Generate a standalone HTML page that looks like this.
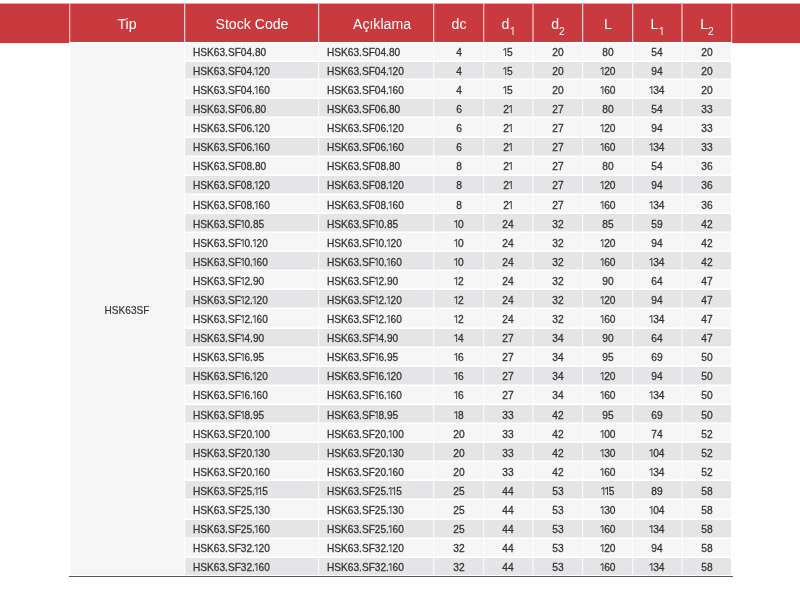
<!DOCTYPE html>
<html><head><meta charset="utf-8"><style>
html,body{margin:0;padding:0;background:#fff;width:800px;height:599px;overflow:hidden;position:relative}
body{font-family:"Liberation Sans",sans-serif}
div,span{position:absolute;box-sizing:border-box}
.h{width:120px;height:38px;line-height:38px;text-align:center;color:#fff;font-size:15.5px;transform:scaleX(0.91)}
.h sub{font-size:11.3px;vertical-align:-6px;line-height:0}
.h sub i{margin-left:0.12em}
.t{height:19px;line-height:19px;font-size:11px;color:#353535;white-space:nowrap;transform:scaleX(0.92);transform-origin:0 0}
.n{width:60px;height:19px;line-height:19px;font-size:11px;color:#353535;text-align:center;transform:scaleX(0.93)}
i{font-style:normal;position:relative;display:inline-block;width:0.36em;height:1px}
i::before{content:"";position:absolute;left:0.15em;bottom:0;width:0.125em;height:0.71em;background:currentColor}
i::after{content:"";position:absolute;left:-0.1em;top:calc(1px - 0.71em);width:0.26em;height:0.12em;background:currentColor;transform:rotate(-38deg);transform-origin:100% 0}
.t,.n{-webkit-text-stroke:0.3px #353535}
.tip{-webkit-text-stroke:0.2px #353535;width:120px;height:20px;line-height:20px;font-size:10.5px;color:#353535;text-align:center;transform:scaleX(0.96)}
</style></head><body><div style="left:0;top:0;width:800px;height:599px;will-change:transform">
<div style="left:0px;top:4px;width:69px;height:39px;background:#c83a3e;"></div>
<div style="left:69px;top:4px;width:663px;height:38px;background:#c83a3e;"></div>
<div style="left:732px;top:4px;width:68px;height:39px;background:#c83a3e;"></div>
<div style="left:0px;top:3px;width:800px;height:1px;background:rgba(200,58,62,0.45);"></div>
<div style="left:70px;top:43px;width:661px;height:532px;background:#f6f6f6;"></div>
<div style="left:185px;top:60px;width:546px;height:1px;background:rgba(255,255,255,0.5);"></div>
<div style="left:185px;top:61px;width:546px;height:1px;background:#fff;"></div>
<div style="left:185px;top:62px;width:546px;height:17px;background:#e5e5e7;"></div>
<div style="left:185px;top:78px;width:546px;height:1px;background:rgba(255,255,255,0.5);"></div>
<div style="left:185px;top:79px;width:546px;height:1px;background:#fff;"></div>
<div style="left:185px;top:97px;width:546px;height:1px;background:rgba(255,255,255,0.5);"></div>
<div style="left:185px;top:98px;width:546px;height:1px;background:#fff;"></div>
<div style="left:185px;top:99px;width:546px;height:18px;background:#e5e5e7;"></div>
<div style="left:185px;top:116px;width:546px;height:1px;background:rgba(255,255,255,0.5);"></div>
<div style="left:185px;top:117px;width:546px;height:1px;background:#fff;"></div>
<div style="left:185px;top:136px;width:546px;height:1px;background:rgba(255,255,255,0.5);"></div>
<div style="left:185px;top:137px;width:546px;height:1px;background:#fff;"></div>
<div style="left:185px;top:138px;width:546px;height:18px;background:#e5e5e7;"></div>
<div style="left:185px;top:155px;width:546px;height:1px;background:rgba(255,255,255,0.5);"></div>
<div style="left:185px;top:156px;width:546px;height:1px;background:#fff;"></div>
<div style="left:185px;top:174px;width:546px;height:1px;background:rgba(255,255,255,0.5);"></div>
<div style="left:185px;top:175px;width:546px;height:1px;background:#fff;"></div>
<div style="left:185px;top:176px;width:546px;height:18px;background:#e5e5e7;"></div>
<div style="left:185px;top:193px;width:546px;height:1px;background:rgba(255,255,255,0.5);"></div>
<div style="left:185px;top:194px;width:546px;height:1px;background:#fff;"></div>
<div style="left:185px;top:212px;width:546px;height:1px;background:rgba(255,255,255,0.5);"></div>
<div style="left:185px;top:213px;width:546px;height:1px;background:#fff;"></div>
<div style="left:185px;top:214px;width:546px;height:18px;background:#e5e5e7;"></div>
<div style="left:185px;top:231px;width:546px;height:1px;background:rgba(255,255,255,0.5);"></div>
<div style="left:185px;top:232px;width:546px;height:1px;background:#fff;"></div>
<div style="left:185px;top:250px;width:546px;height:1px;background:rgba(255,255,255,0.5);"></div>
<div style="left:185px;top:251px;width:546px;height:1px;background:#fff;"></div>
<div style="left:185px;top:252px;width:546px;height:18px;background:#e5e5e7;"></div>
<div style="left:185px;top:269px;width:546px;height:1px;background:rgba(255,255,255,0.5);"></div>
<div style="left:185px;top:270px;width:546px;height:1px;background:#fff;"></div>
<div style="left:185px;top:288px;width:546px;height:1px;background:rgba(255,255,255,0.5);"></div>
<div style="left:185px;top:289px;width:546px;height:1px;background:#fff;"></div>
<div style="left:185px;top:290px;width:546px;height:18px;background:#e5e5e7;"></div>
<div style="left:185px;top:307px;width:546px;height:1px;background:rgba(255,255,255,0.5);"></div>
<div style="left:185px;top:308px;width:546px;height:1px;background:#fff;"></div>
<div style="left:185px;top:327px;width:546px;height:1px;background:rgba(255,255,255,0.5);"></div>
<div style="left:185px;top:328px;width:546px;height:1px;background:#fff;"></div>
<div style="left:185px;top:329px;width:546px;height:18px;background:#e5e5e7;"></div>
<div style="left:185px;top:346px;width:546px;height:1px;background:rgba(255,255,255,0.5);"></div>
<div style="left:185px;top:347px;width:546px;height:1px;background:#fff;"></div>
<div style="left:185px;top:365px;width:546px;height:1px;background:rgba(255,255,255,0.5);"></div>
<div style="left:185px;top:366px;width:546px;height:1px;background:#fff;"></div>
<div style="left:185px;top:367px;width:546px;height:18px;background:#e5e5e7;"></div>
<div style="left:185px;top:384px;width:546px;height:1px;background:rgba(255,255,255,0.5);"></div>
<div style="left:185px;top:385px;width:546px;height:1px;background:#fff;"></div>
<div style="left:185px;top:403px;width:546px;height:1px;background:rgba(255,255,255,0.5);"></div>
<div style="left:185px;top:404px;width:546px;height:1px;background:#fff;"></div>
<div style="left:185px;top:405px;width:546px;height:18px;background:#e5e5e7;"></div>
<div style="left:185px;top:422px;width:546px;height:1px;background:rgba(255,255,255,0.5);"></div>
<div style="left:185px;top:423px;width:546px;height:1px;background:#fff;"></div>
<div style="left:185px;top:441px;width:546px;height:1px;background:rgba(255,255,255,0.5);"></div>
<div style="left:185px;top:442px;width:546px;height:1px;background:#fff;"></div>
<div style="left:185px;top:443px;width:546px;height:18px;background:#e5e5e7;"></div>
<div style="left:185px;top:460px;width:546px;height:1px;background:rgba(255,255,255,0.5);"></div>
<div style="left:185px;top:461px;width:546px;height:1px;background:#fff;"></div>
<div style="left:185px;top:479px;width:546px;height:1px;background:rgba(255,255,255,0.5);"></div>
<div style="left:185px;top:480px;width:546px;height:1px;background:#fff;"></div>
<div style="left:185px;top:481px;width:546px;height:18px;background:#e5e5e7;"></div>
<div style="left:185px;top:498px;width:546px;height:1px;background:rgba(255,255,255,0.5);"></div>
<div style="left:185px;top:499px;width:546px;height:1px;background:#fff;"></div>
<div style="left:185px;top:518px;width:546px;height:1px;background:rgba(255,255,255,0.5);"></div>
<div style="left:185px;top:519px;width:546px;height:1px;background:#fff;"></div>
<div style="left:185px;top:520px;width:546px;height:18px;background:#e5e5e7;"></div>
<div style="left:185px;top:537px;width:546px;height:1px;background:rgba(255,255,255,0.5);"></div>
<div style="left:185px;top:538px;width:546px;height:1px;background:#fff;"></div>
<div style="left:185px;top:556px;width:546px;height:1px;background:rgba(255,255,255,0.5);"></div>
<div style="left:185px;top:557px;width:546px;height:1px;background:#fff;"></div>
<div style="left:185px;top:558px;width:546px;height:17px;background:#e5e5e7;"></div>
<div style="left:69px;top:4px;width:1px;height:571px;background:rgba(255,255,255,0.72);"></div>
<div style="left:70px;top:4px;width:1px;height:571px;background:rgba(255,255,255,0.2);"></div>
<div style="left:184px;top:4px;width:1px;height:571px;background:rgba(255,255,255,0.72);"></div>
<div style="left:185px;top:4px;width:1px;height:571px;background:rgba(255,255,255,0.2);"></div>
<div style="left:318px;top:4px;width:1px;height:571px;background:rgba(255,255,255,0.72);"></div>
<div style="left:319px;top:4px;width:1px;height:571px;background:rgba(255,255,255,0.2);"></div>
<div style="left:433px;top:4px;width:1px;height:571px;background:rgba(255,255,255,0.72);"></div>
<div style="left:434px;top:4px;width:1px;height:571px;background:rgba(255,255,255,0.2);"></div>
<div style="left:483px;top:4px;width:1px;height:571px;background:rgba(255,255,255,0.72);"></div>
<div style="left:484px;top:4px;width:1px;height:571px;background:rgba(255,255,255,0.2);"></div>
<div style="left:532px;top:4px;width:2px;height:571px;background:rgba(255,255,255,0.47);"></div>
<div style="left:582px;top:4px;width:1px;height:571px;background:rgba(255,255,255,0.72);"></div>
<div style="left:583px;top:4px;width:1px;height:571px;background:rgba(255,255,255,0.2);"></div>
<div style="left:632px;top:4px;width:1px;height:571px;background:rgba(255,255,255,0.72);"></div>
<div style="left:633px;top:4px;width:1px;height:571px;background:rgba(255,255,255,0.2);"></div>
<div style="left:681px;top:4px;width:2px;height:571px;background:rgba(255,255,255,0.47);"></div>
<div style="left:731px;top:4px;width:1px;height:571px;background:rgba(255,255,255,0.72);"></div>
<div style="left:732px;top:4px;width:1px;height:571px;background:rgba(255,255,255,0.2);"></div>
<div style="left:69px;top:42px;width:663px;height:1px;background:#fff;"></div>
<div style="left:69px;top:576px;width:664px;height:1px;background:#5a5a5a;"></div>
<span class="h" style="left:67.0px;top:5px">Tip</span>
<span class="h" style="left:191.5px;top:5px">Stock Code</span>
<span class="h" style="left:322.0px;top:5px">A&ccedil;&#305;klama</span>
<span class="h" style="left:398.5px;top:5px">dc</span>
<span class="h" style="left:448.25px;top:5px">d<sub><i></i></sub></span>
<span class="h" style="left:497.75px;top:5px">d<sub>2</sub></span>
<span class="h" style="left:547.5px;top:5px">L</span>
<span class="h" style="left:597.25px;top:5px">L<sub><i></i></sub></span>
<span class="h" style="left:646.75px;top:5px">L<sub>2</sub></span>
<span class="t" style="left:192.5px;top:43px">HSK63.SF04.80</span>
<span class="t" style="left:326.5px;top:43px">HSK63.SF04.80</span>
<span class="n" style="left:428.5px;top:43px">4</span>
<span class="n" style="left:478.25px;top:43px"><i></i>5</span>
<span class="n" style="left:527.75px;top:43px">20</span>
<span class="n" style="left:577.5px;top:43px">80</span>
<span class="n" style="left:627.25px;top:43px">54</span>
<span class="n" style="left:676.75px;top:43px">20</span>
<span class="t" style="left:192.5px;top:62px">HSK63.SF04.<i></i>20</span>
<span class="t" style="left:326.5px;top:62px">HSK63.SF04.<i></i>20</span>
<span class="n" style="left:428.5px;top:62px">4</span>
<span class="n" style="left:478.25px;top:62px"><i></i>5</span>
<span class="n" style="left:527.75px;top:62px">20</span>
<span class="n" style="left:577.5px;top:62px"><i></i>20</span>
<span class="n" style="left:627.25px;top:62px">94</span>
<span class="n" style="left:676.75px;top:62px">20</span>
<span class="t" style="left:192.5px;top:81px">HSK63.SF04.<i></i>60</span>
<span class="t" style="left:326.5px;top:81px">HSK63.SF04.<i></i>60</span>
<span class="n" style="left:428.5px;top:81px">4</span>
<span class="n" style="left:478.25px;top:81px"><i></i>5</span>
<span class="n" style="left:527.75px;top:81px">20</span>
<span class="n" style="left:577.5px;top:81px"><i></i>60</span>
<span class="n" style="left:627.25px;top:81px"><i></i>34</span>
<span class="n" style="left:676.75px;top:81px">20</span>
<span class="t" style="left:192.5px;top:100px">HSK63.SF06.80</span>
<span class="t" style="left:326.5px;top:100px">HSK63.SF06.80</span>
<span class="n" style="left:428.5px;top:100px">6</span>
<span class="n" style="left:478.25px;top:100px">2<i></i></span>
<span class="n" style="left:527.75px;top:100px">27</span>
<span class="n" style="left:577.5px;top:100px">80</span>
<span class="n" style="left:627.25px;top:100px">54</span>
<span class="n" style="left:676.75px;top:100px">33</span>
<span class="t" style="left:192.5px;top:119px">HSK63.SF06.<i></i>20</span>
<span class="t" style="left:326.5px;top:119px">HSK63.SF06.<i></i>20</span>
<span class="n" style="left:428.5px;top:119px">6</span>
<span class="n" style="left:478.25px;top:119px">2<i></i></span>
<span class="n" style="left:527.75px;top:119px">27</span>
<span class="n" style="left:577.5px;top:119px"><i></i>20</span>
<span class="n" style="left:627.25px;top:119px">94</span>
<span class="n" style="left:676.75px;top:119px">33</span>
<span class="t" style="left:192.5px;top:138px">HSK63.SF06.<i></i>60</span>
<span class="t" style="left:326.5px;top:138px">HSK63.SF06.<i></i>60</span>
<span class="n" style="left:428.5px;top:138px">6</span>
<span class="n" style="left:478.25px;top:138px">2<i></i></span>
<span class="n" style="left:527.75px;top:138px">27</span>
<span class="n" style="left:577.5px;top:138px"><i></i>60</span>
<span class="n" style="left:627.25px;top:138px"><i></i>34</span>
<span class="n" style="left:676.75px;top:138px">33</span>
<span class="t" style="left:192.5px;top:157px">HSK63.SF08.80</span>
<span class="t" style="left:326.5px;top:157px">HSK63.SF08.80</span>
<span class="n" style="left:428.5px;top:157px">8</span>
<span class="n" style="left:478.25px;top:157px">2<i></i></span>
<span class="n" style="left:527.75px;top:157px">27</span>
<span class="n" style="left:577.5px;top:157px">80</span>
<span class="n" style="left:627.25px;top:157px">54</span>
<span class="n" style="left:676.75px;top:157px">36</span>
<span class="t" style="left:192.5px;top:176px">HSK63.SF08.<i></i>20</span>
<span class="t" style="left:326.5px;top:176px">HSK63.SF08.<i></i>20</span>
<span class="n" style="left:428.5px;top:176px">8</span>
<span class="n" style="left:478.25px;top:176px">2<i></i></span>
<span class="n" style="left:527.75px;top:176px">27</span>
<span class="n" style="left:577.5px;top:176px"><i></i>20</span>
<span class="n" style="left:627.25px;top:176px">94</span>
<span class="n" style="left:676.75px;top:176px">36</span>
<span class="t" style="left:192.5px;top:196px">HSK63.SF08.<i></i>60</span>
<span class="t" style="left:326.5px;top:196px">HSK63.SF08.<i></i>60</span>
<span class="n" style="left:428.5px;top:196px">8</span>
<span class="n" style="left:478.25px;top:196px">2<i></i></span>
<span class="n" style="left:527.75px;top:196px">27</span>
<span class="n" style="left:577.5px;top:196px"><i></i>60</span>
<span class="n" style="left:627.25px;top:196px"><i></i>34</span>
<span class="n" style="left:676.75px;top:196px">36</span>
<span class="t" style="left:192.5px;top:215px">HSK63.SF<i></i>0.85</span>
<span class="t" style="left:326.5px;top:215px">HSK63.SF<i></i>0.85</span>
<span class="n" style="left:428.5px;top:215px"><i></i>0</span>
<span class="n" style="left:478.25px;top:215px">24</span>
<span class="n" style="left:527.75px;top:215px">32</span>
<span class="n" style="left:577.5px;top:215px">85</span>
<span class="n" style="left:627.25px;top:215px">59</span>
<span class="n" style="left:676.75px;top:215px">42</span>
<span class="t" style="left:192.5px;top:234px">HSK63.SF<i></i>0.<i></i>20</span>
<span class="t" style="left:326.5px;top:234px">HSK63.SF<i></i>0.<i></i>20</span>
<span class="n" style="left:428.5px;top:234px"><i></i>0</span>
<span class="n" style="left:478.25px;top:234px">24</span>
<span class="n" style="left:527.75px;top:234px">32</span>
<span class="n" style="left:577.5px;top:234px"><i></i>20</span>
<span class="n" style="left:627.25px;top:234px">94</span>
<span class="n" style="left:676.75px;top:234px">42</span>
<span class="t" style="left:192.5px;top:253px">HSK63.SF<i></i>0.<i></i>60</span>
<span class="t" style="left:326.5px;top:253px">HSK63.SF<i></i>0.<i></i>60</span>
<span class="n" style="left:428.5px;top:253px"><i></i>0</span>
<span class="n" style="left:478.25px;top:253px">24</span>
<span class="n" style="left:527.75px;top:253px">32</span>
<span class="n" style="left:577.5px;top:253px"><i></i>60</span>
<span class="n" style="left:627.25px;top:253px"><i></i>34</span>
<span class="n" style="left:676.75px;top:253px">42</span>
<span class="t" style="left:192.5px;top:272px">HSK63.SF<i></i>2.90</span>
<span class="t" style="left:326.5px;top:272px">HSK63.SF<i></i>2.90</span>
<span class="n" style="left:428.5px;top:272px"><i></i>2</span>
<span class="n" style="left:478.25px;top:272px">24</span>
<span class="n" style="left:527.75px;top:272px">32</span>
<span class="n" style="left:577.5px;top:272px">90</span>
<span class="n" style="left:627.25px;top:272px">64</span>
<span class="n" style="left:676.75px;top:272px">47</span>
<span class="t" style="left:192.5px;top:291px">HSK63.SF<i></i>2.<i></i>20</span>
<span class="t" style="left:326.5px;top:291px">HSK63.SF<i></i>2.<i></i>20</span>
<span class="n" style="left:428.5px;top:291px"><i></i>2</span>
<span class="n" style="left:478.25px;top:291px">24</span>
<span class="n" style="left:527.75px;top:291px">32</span>
<span class="n" style="left:577.5px;top:291px"><i></i>20</span>
<span class="n" style="left:627.25px;top:291px">94</span>
<span class="n" style="left:676.75px;top:291px">47</span>
<span class="t" style="left:192.5px;top:310px">HSK63.SF<i></i>2.<i></i>60</span>
<span class="t" style="left:326.5px;top:310px">HSK63.SF<i></i>2.<i></i>60</span>
<span class="n" style="left:428.5px;top:310px"><i></i>2</span>
<span class="n" style="left:478.25px;top:310px">24</span>
<span class="n" style="left:527.75px;top:310px">32</span>
<span class="n" style="left:577.5px;top:310px"><i></i>60</span>
<span class="n" style="left:627.25px;top:310px"><i></i>34</span>
<span class="n" style="left:676.75px;top:310px">47</span>
<span class="t" style="left:192.5px;top:329px">HSK63.SF<i></i>4.90</span>
<span class="t" style="left:326.5px;top:329px">HSK63.SF<i></i>4.90</span>
<span class="n" style="left:428.5px;top:329px"><i></i>4</span>
<span class="n" style="left:478.25px;top:329px">27</span>
<span class="n" style="left:527.75px;top:329px">34</span>
<span class="n" style="left:577.5px;top:329px">90</span>
<span class="n" style="left:627.25px;top:329px">64</span>
<span class="n" style="left:676.75px;top:329px">47</span>
<span class="t" style="left:192.5px;top:348px">HSK63.SF<i></i>6.95</span>
<span class="t" style="left:326.5px;top:348px">HSK63.SF<i></i>6.95</span>
<span class="n" style="left:428.5px;top:348px"><i></i>6</span>
<span class="n" style="left:478.25px;top:348px">27</span>
<span class="n" style="left:527.75px;top:348px">34</span>
<span class="n" style="left:577.5px;top:348px">95</span>
<span class="n" style="left:627.25px;top:348px">69</span>
<span class="n" style="left:676.75px;top:348px">50</span>
<span class="t" style="left:192.5px;top:367px">HSK63.SF<i></i>6.<i></i>20</span>
<span class="t" style="left:326.5px;top:367px">HSK63.SF<i></i>6.<i></i>20</span>
<span class="n" style="left:428.5px;top:367px"><i></i>6</span>
<span class="n" style="left:478.25px;top:367px">27</span>
<span class="n" style="left:527.75px;top:367px">34</span>
<span class="n" style="left:577.5px;top:367px"><i></i>20</span>
<span class="n" style="left:627.25px;top:367px">94</span>
<span class="n" style="left:676.75px;top:367px">50</span>
<span class="t" style="left:192.5px;top:386px">HSK63.SF<i></i>6.<i></i>60</span>
<span class="t" style="left:326.5px;top:386px">HSK63.SF<i></i>6.<i></i>60</span>
<span class="n" style="left:428.5px;top:386px"><i></i>6</span>
<span class="n" style="left:478.25px;top:386px">27</span>
<span class="n" style="left:527.75px;top:386px">34</span>
<span class="n" style="left:577.5px;top:386px"><i></i>60</span>
<span class="n" style="left:627.25px;top:386px"><i></i>34</span>
<span class="n" style="left:676.75px;top:386px">50</span>
<span class="t" style="left:192.5px;top:406px">HSK63.SF<i></i>8.95</span>
<span class="t" style="left:326.5px;top:406px">HSK63.SF<i></i>8.95</span>
<span class="n" style="left:428.5px;top:406px"><i></i>8</span>
<span class="n" style="left:478.25px;top:406px">33</span>
<span class="n" style="left:527.75px;top:406px">42</span>
<span class="n" style="left:577.5px;top:406px">95</span>
<span class="n" style="left:627.25px;top:406px">69</span>
<span class="n" style="left:676.75px;top:406px">50</span>
<span class="t" style="left:192.5px;top:425px">HSK63.SF20.<i></i>00</span>
<span class="t" style="left:326.5px;top:425px">HSK63.SF20.<i></i>00</span>
<span class="n" style="left:428.5px;top:425px">20</span>
<span class="n" style="left:478.25px;top:425px">33</span>
<span class="n" style="left:527.75px;top:425px">42</span>
<span class="n" style="left:577.5px;top:425px"><i></i>00</span>
<span class="n" style="left:627.25px;top:425px">74</span>
<span class="n" style="left:676.75px;top:425px">52</span>
<span class="t" style="left:192.5px;top:444px">HSK63.SF20.<i></i>30</span>
<span class="t" style="left:326.5px;top:444px">HSK63.SF20.<i></i>30</span>
<span class="n" style="left:428.5px;top:444px">20</span>
<span class="n" style="left:478.25px;top:444px">33</span>
<span class="n" style="left:527.75px;top:444px">42</span>
<span class="n" style="left:577.5px;top:444px"><i></i>30</span>
<span class="n" style="left:627.25px;top:444px"><i></i>04</span>
<span class="n" style="left:676.75px;top:444px">52</span>
<span class="t" style="left:192.5px;top:463px">HSK63.SF20.<i></i>60</span>
<span class="t" style="left:326.5px;top:463px">HSK63.SF20.<i></i>60</span>
<span class="n" style="left:428.5px;top:463px">20</span>
<span class="n" style="left:478.25px;top:463px">33</span>
<span class="n" style="left:527.75px;top:463px">42</span>
<span class="n" style="left:577.5px;top:463px"><i></i>60</span>
<span class="n" style="left:627.25px;top:463px"><i></i>34</span>
<span class="n" style="left:676.75px;top:463px">52</span>
<span class="t" style="left:192.5px;top:482px">HSK63.SF25.<i></i><i></i>5</span>
<span class="t" style="left:326.5px;top:482px">HSK63.SF25.<i></i><i></i>5</span>
<span class="n" style="left:428.5px;top:482px">25</span>
<span class="n" style="left:478.25px;top:482px">44</span>
<span class="n" style="left:527.75px;top:482px">53</span>
<span class="n" style="left:577.5px;top:482px"><i></i><i></i>5</span>
<span class="n" style="left:627.25px;top:482px">89</span>
<span class="n" style="left:676.75px;top:482px">58</span>
<span class="t" style="left:192.5px;top:501px">HSK63.SF25.<i></i>30</span>
<span class="t" style="left:326.5px;top:501px">HSK63.SF25.<i></i>30</span>
<span class="n" style="left:428.5px;top:501px">25</span>
<span class="n" style="left:478.25px;top:501px">44</span>
<span class="n" style="left:527.75px;top:501px">53</span>
<span class="n" style="left:577.5px;top:501px"><i></i>30</span>
<span class="n" style="left:627.25px;top:501px"><i></i>04</span>
<span class="n" style="left:676.75px;top:501px">58</span>
<span class="t" style="left:192.5px;top:520px">HSK63.SF25.<i></i>60</span>
<span class="t" style="left:326.5px;top:520px">HSK63.SF25.<i></i>60</span>
<span class="n" style="left:428.5px;top:520px">25</span>
<span class="n" style="left:478.25px;top:520px">44</span>
<span class="n" style="left:527.75px;top:520px">53</span>
<span class="n" style="left:577.5px;top:520px"><i></i>60</span>
<span class="n" style="left:627.25px;top:520px"><i></i>34</span>
<span class="n" style="left:676.75px;top:520px">58</span>
<span class="t" style="left:192.5px;top:539px">HSK63.SF32.<i></i>20</span>
<span class="t" style="left:326.5px;top:539px">HSK63.SF32.<i></i>20</span>
<span class="n" style="left:428.5px;top:539px">32</span>
<span class="n" style="left:478.25px;top:539px">44</span>
<span class="n" style="left:527.75px;top:539px">53</span>
<span class="n" style="left:577.5px;top:539px"><i></i>20</span>
<span class="n" style="left:627.25px;top:539px">94</span>
<span class="n" style="left:676.75px;top:539px">58</span>
<span class="t" style="left:192.5px;top:558px">HSK63.SF32.<i></i>60</span>
<span class="t" style="left:326.5px;top:558px">HSK63.SF32.<i></i>60</span>
<span class="n" style="left:428.5px;top:558px">32</span>
<span class="n" style="left:478.25px;top:558px">44</span>
<span class="n" style="left:527.75px;top:558px">53</span>
<span class="n" style="left:577.5px;top:558px"><i></i>60</span>
<span class="n" style="left:627.25px;top:558px"><i></i>34</span>
<span class="n" style="left:676.75px;top:558px">58</span>
<span class="tip" style="left:67px;top:300px">HSK63SF</span>
</div></body></html>
